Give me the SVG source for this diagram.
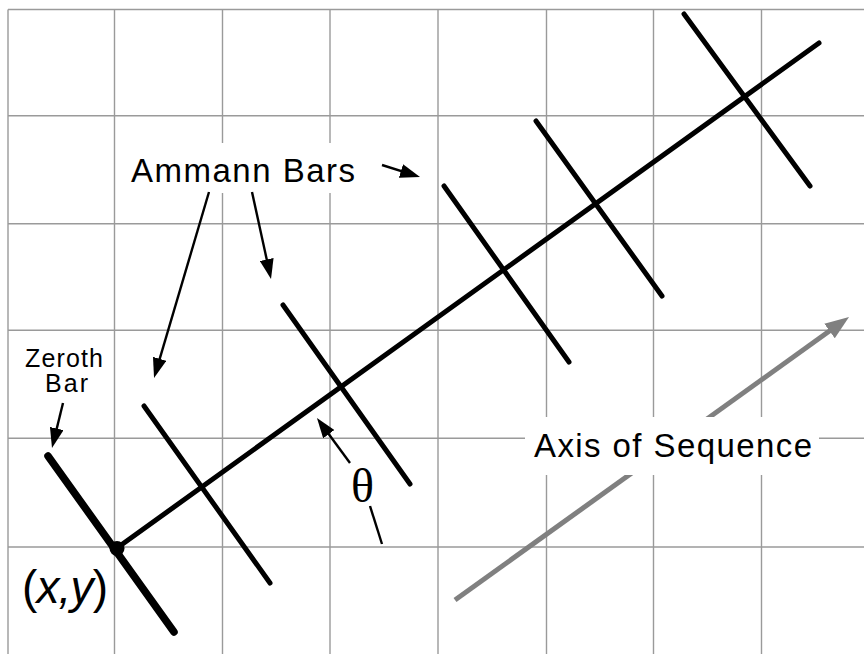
<svg xmlns="http://www.w3.org/2000/svg" width="864" height="654" viewBox="0 0 864 654">
<style>
.grid line{stroke:#9a9a9a;stroke-width:1.4}
.bar{stroke:#000;stroke-width:5;stroke-linecap:round;fill:none}
.bar0{stroke:#000;stroke-width:7.5;stroke-linecap:round;fill:none}
.ptr{stroke:#000;stroke-width:2.4;fill:none}
.lbl{font-family:"Liberation Sans",Arial,Helvetica,sans-serif;fill:#000}
</style>
<defs>
<marker id="ah" markerUnits="userSpaceOnUse" viewBox="0 0 20 14" refX="12" refY="7" markerWidth="20" markerHeight="14" orient="auto">
<path d="M0,0 L20,7 L0,14 z" fill="#000"/>
</marker>
<marker id="ahg" markerUnits="userSpaceOnUse" viewBox="0 0 24 18" refX="14" refY="9" markerWidth="24" markerHeight="18" orient="auto">
<path d="M0,0 L24,9 L0,18 z" fill="#808080"/>
</marker>
</defs>
<rect x="0" y="0" width="864" height="654" fill="#fff"/>
<g id="grid" class="grid">
<line x1="8" y1="9.5" x2="8" y2="654"/>
<line x1="114.5" y1="9.5" x2="114.5" y2="654"/>
<line x1="222.5" y1="9.5" x2="222.5" y2="654"/>
<line x1="330" y1="9.5" x2="330" y2="654"/>
<line x1="438" y1="9.5" x2="438" y2="654"/>
<line x1="546.5" y1="9.5" x2="546.5" y2="654"/>
<line x1="653.5" y1="9.5" x2="653.5" y2="654"/>
<line x1="761.5" y1="9.5" x2="761.5" y2="654"/>
<line x1="8" y1="9.5" x2="864" y2="9.5"/>
<line x1="8" y1="115.7" x2="864" y2="115.7"/>
<line x1="8" y1="223.7" x2="864" y2="223.7"/>
<line x1="8" y1="330.3" x2="864" y2="330.3"/>
<line x1="8" y1="438.3" x2="864" y2="438.3"/>
<line x1="8" y1="547" x2="864" y2="547"/>
</g>
<g id="axis-of-sequence-arrow">
<line x1="455" y1="600" x2="840.9" y2="322.8" stroke="#808080" stroke-width="5" marker-end="url(#ahg)"/>
</g>
<g id="main-axis">
<line class="bar" x1="117" y1="548" x2="819" y2="43"/>
</g>
<g id="zeroth-bar">
<line class="bar0" x1="48" y1="456" x2="174" y2="632"/>
</g>
<g id="bar-1"><line class="bar" x1="144" y1="406" x2="270" y2="583"/></g>
<g id="bar-2"><line class="bar" x1="283" y1="305" x2="410" y2="484"/></g>
<g id="bar-3"><line class="bar" x1="444" y1="186" x2="569" y2="362"/></g>
<g id="bar-4"><line class="bar" x1="536" y1="121" x2="662" y2="296"/></g>
<g id="bar-5"><line class="bar" x1="684" y1="14" x2="810" y2="186"/></g>
<g id="origin">
<circle cx="117" cy="548.5" r="7.5" fill="#000"/>
</g>
<g id="label-ammann">
<rect x="122" y="143" width="244" height="50" fill="#fff"/>
<text class="lbl" x="131" y="182" font-size="33" textLength="224" lengthAdjust="spacing">Ammann Bars</text>
</g>
<g id="label-zeroth">
<text class="lbl" x="25" y="366.5" font-size="25" textLength="78" lengthAdjust="spacing">Zeroth</text>
<text class="lbl" x="45" y="392" font-size="25" textLength="43" lengthAdjust="spacing">Bar</text>
</g>
<g id="label-xy">
<text class="lbl" x="22" y="603" font-size="46" textLength="86" lengthAdjust="spacing">(<tspan font-style="italic">x,y</tspan>)</text>
</g>
<g id="label-theta">
<text x="351" y="502" font-size="48" font-family="'Liberation Serif','Times New Roman',serif" fill="#000">θ</text>
</g>
<g id="label-axis">
<rect x="525" y="417" width="294" height="58" fill="#fff"/>
<text class="lbl" x="534" y="457" font-size="33" textLength="278" lengthAdjust="spacing">Axis of Sequence</text>
</g>
<g id="connectors">
<line class="ptr" x1="63" y1="403" x2="53.9" y2="440.2" marker-end="url(#ah)"/>
<line class="ptr" x1="209" y1="192" x2="156.3" y2="370.3" marker-end="url(#ah)"/>
<line class="ptr" x1="252" y1="192" x2="269.3" y2="271.2" marker-end="url(#ah)"/>
<line class="ptr" x1="382" y1="165" x2="412.4" y2="174.6" marker-end="url(#ah)"/>
<line class="ptr" x1="350" y1="463" x2="321.7" y2="424.5" marker-end="url(#ah)"/>
<line class="ptr" x1="370" y1="506" x2="382" y2="544"/>
</g>
</svg>
